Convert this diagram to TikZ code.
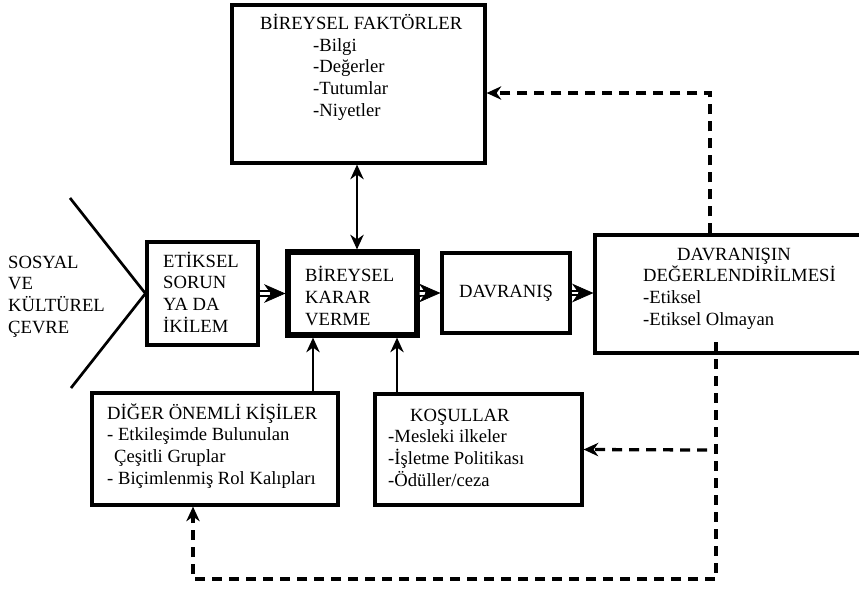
\documentclass[tikz,border=0pt]{standalone}
\usepackage{fontspec}
\setmainfont{Liberation Serif}
\usetikzlibrary{arrows.meta}

\tikzset{
  metin/.style={font=\fontsize{15.9}{18.4}\selectfont},
  kutu/.style={draw, line width=2.7pt, inner sep=0pt},
  kalinkutu/.style={draw, line width=4.4pt, inner sep=0pt},
  yazi/.style={metin, anchor=base west, align=left, inner sep=0pt},
  ok/.style={line width=2pt, ->},
  ciftcizgi/.style={double, double distance=2.4pt, line width=1.6pt, shorten >=4.5mm},
  ciftuc/.style={line width=0.6pt, -{Stealth[length=6.4mm,width=5.6mm,inset=2mm]}},
  kesikok/.style={line width=2.8pt, dash pattern=on 3mm off 2.1mm, ->},
}

\begin{document}
\begin{tikzpicture}[x=0.3mm, y=-0.3mm,
    >={Stealth[length=4.4mm,width=4mm,inset=1.4mm]}]
    \useasboundingbox (0,0) rectangle (859,589);
    \clip (0,0) rectangle (859,589);

    % kutular
    \node[kutu, minimum width=75.9mm, minimum height=47.4mm] (fakt) at (358.5,84) {};
    \node[kutu, minimum width=33.3mm, minimum height=30.9mm] (etik) at (202.5,293.5) {};
    \node[kalinkutu, minimum width=38.7mm, minimum height=24.9mm] (karar) at (352.5,293.5) {};
    \node[kutu, metin, minimum width=38.4mm, minimum height=24mm] (davr) at (506,293) {DAVRANIŞ};
    \node[kutu, minimum width=84mm, minimum height=35.4mm] (deger) at (735,294) {};
    \node[kutu, minimum width=73.8mm, minimum height=33.6mm] (diger) at (215,449) {};
    \node[kutu, minimum width=62.1mm, minimum height=33.3mm] (kosul) at (478.5,449.5) {};

    % yazilar (konum: son satirin taban cizgisi)
    \node[yazi] (faktYazi) at (260,116) {BİREYSEL FAKTÖRLER\\
        \hspace*{15.9mm}-Bilgi\\ \hspace*{15.9mm}-Değerler\\
        \hspace*{15.9mm}-Tutumlar\\ \hspace*{15.9mm}-Niyetler};
    \node[yazi] (cevreYazi) at (8,333) {SOSYAL\\ VE\\ KÜLTÜREL\\ ÇEVRE};
    \node[yazi] (etikYazi) at (163,332) {ETİKSEL\\ SORUN\\ YA DA\\ İKİLEM};
    \node[yazi] (kararYazi) at (305,325) {BİREYSEL\\ KARAR\\ VERME};
    \node[yazi] (degerYazi) at (643,325) {\hspace*{10.2mm}DAVRANIŞIN\\
        DEĞERLENDİRİLMESİ\\ -Etiksel\\ -Etiksel Olmayan};
    \node[yazi] (digerYazi) at (107,484) {DİĞER ÖNEMLİ KİŞİLER\\
        - Etkileşimde Bulunulan\\ \hspace*{2.1mm}Çeşitli Gruplar\\
        - Biçimlenmiş Rol Kalıpları};
    \node[yazi] (kosulYazi) at (388,486) {\hspace*{6.6mm}KOŞULLAR\\
        -Mesleki ilkeler\\ -İşletme Politikası\\ -Ödüller/ceza};

    % cevre cizgisi
    \draw[line width=2.3pt] (70,198) -- (etik.west) -- (71,388);

    % cift oklar
    \draw[ciftcizgi] (etik.east) -- (karar.west);
    \draw[ciftuc] ([xshift=-4.6mm]karar.west) -- (karar.west);
    \draw[ciftcizgi] (karar.east) -- (davr.west);
    \draw[ciftuc] ([xshift=-4.6mm]davr.west) -- (davr.west);
    \draw[ciftcizgi] (davr.east) -- (davr.east -| deger.west);
    \draw[ciftuc] ([xshift=-4.6mm]davr.east -| deger.west) -- (davr.east -| deger.west);

    % oklar
    \draw[ok, <->] (fakt.south -| 357,0) -- (karar.north -| 357,0);
    \draw[ok] (diger.north -| 313,0) -- (karar.south -| 313,0);
    \draw[ok] (kosul.north -| 397,0) -- (karar.south -| 397,0);

    % geri bildirim
    \draw[kesikok] (deger.north -| 710,0) |- (fakt.east |- 0,93);
    \coordinate (kosulUc) at (707,450);
    \draw[kesikok] (kosulUc) -- (kosul.east);
    \coordinate (altBas) at (716,342);
    \draw[kesikok] (altBas) -- (altBas |- 0,579) -| (diger.south -| 193,0);
\end{tikzpicture}
\end{document}
